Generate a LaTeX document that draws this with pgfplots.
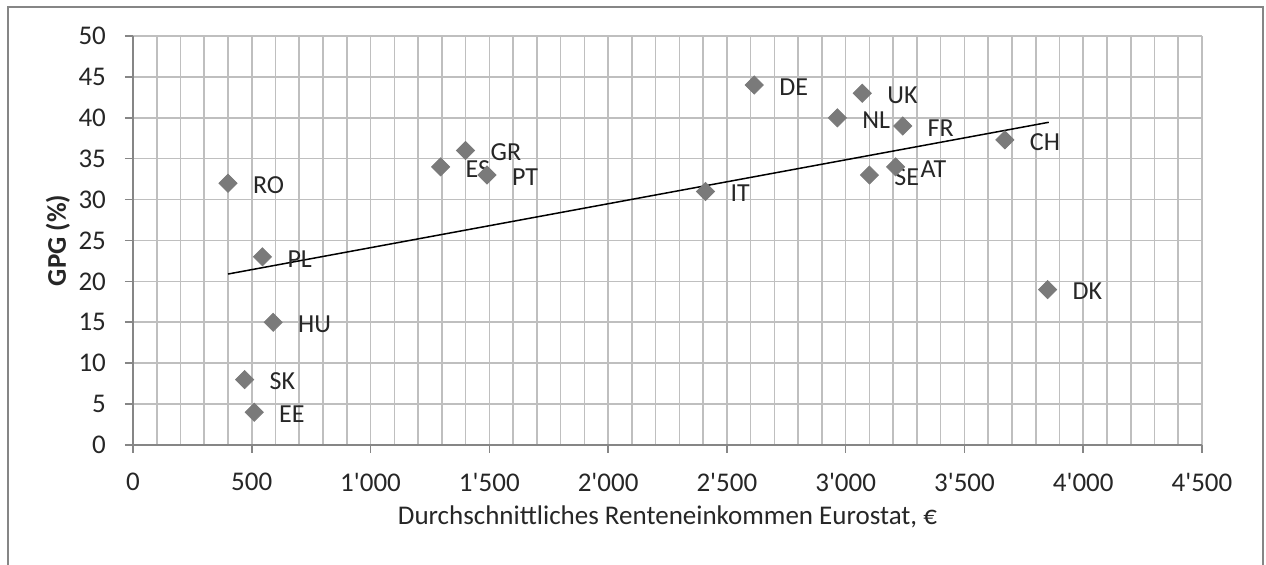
\documentclass[border=0pt]{standalone}
\usepackage{fontspec}
\setmainfont{Carlito}
\usepackage{pgfplots}
\pgfplotsset{compat=1.18}
\definecolor{axisgray}{RGB}{134,134,134}
\definecolor{gridgray}{RGB}{191,191,191}
\definecolor{markgray}{RGB}{122,122,122}
\definecolor{textgray}{RGB}{38,38,38}
\begin{document}
\begin{tikzpicture}
\useasboundingbox (-66.5pt,-60pt) rectangle (566.5pt,222.5pt);
\draw[axisgray, line width=0.8pt] (-62.5pt,-61pt) -- (-62.5pt,219pt) -- (565pt,219pt) -- (565pt,-61pt);
\begin{axis}[
  at={(0,0)}, anchor=origin,
  scale only axis, width=534.5pt, height=204.5pt,
  xmin=0, xmax=4500, ymin=0, ymax=50,
  xtick={0,500,...,4500}, ytick={0,5,...,50},
  minor x tick num=4,
  grid=both,
  major grid style={gridgray, line width=0.8pt},
  minor grid style={gridgray, line width=0.8pt},
  axis x line*=bottom, axis y line*=left,
  axis line style={axisgray, line width=0.8pt, -},
  tick align=outside,
  major tick length=4pt, minor tick length=0pt,
  tick style={axisgray, line width=0.8pt},
  /pgf/number format/assume math mode=true,
  /pgf/number format/1000 sep={\textquotesingle},
  tick label style={font=\fontsize{13.5}{15}\selectfont, text=textgray},
  xticklabel style={yshift=-6.5pt},
  yticklabel style={xshift=-6pt},
  label style={font=\fontsize{13.5}{15}\selectfont, text=textgray},
  xlabel={Durchschnittliches Renteneinkommen Eurostat, €},
  ylabel={\bfseries GPG (\%)},
  xlabel style={at={(axis description cs:0.5,0)}, anchor=center, yshift=-36pt},
  ylabel style={at={(axis description cs:0,0.5)}, anchor=center, yshift=37.5pt},
  clip=false,
]
\addplot[only marks, mark=square*, mark size=3.2pt,
  mark options={rotate=45, fill=markgray, draw=markgray},
  nodes near coords, point meta=explicit symbolic,
  nodes near coords style={anchor=west, xshift=9pt, yshift=-1pt,
    font=\fontsize{13}{15}\selectfont, text=textgray}]
table[meta=label] {
x y label
400 32 RO
545 23 PL
590 15 HU
470 8 SK
510 4 EE
1295 34 ES
1400 36 GR
1490 33 PT
2410 31 IT
2615 44 DE
3070 43 UK
2965 40 NL
3240 39 FR
3670 37.3 CH
3100 33 SE
3210 34 AT
3850 19 DK
};
\addplot[black, line width=0.75pt, no marks] coordinates {(400,20.9) (3855,39.45)};
\end{axis}
\end{tikzpicture}
\end{document}
